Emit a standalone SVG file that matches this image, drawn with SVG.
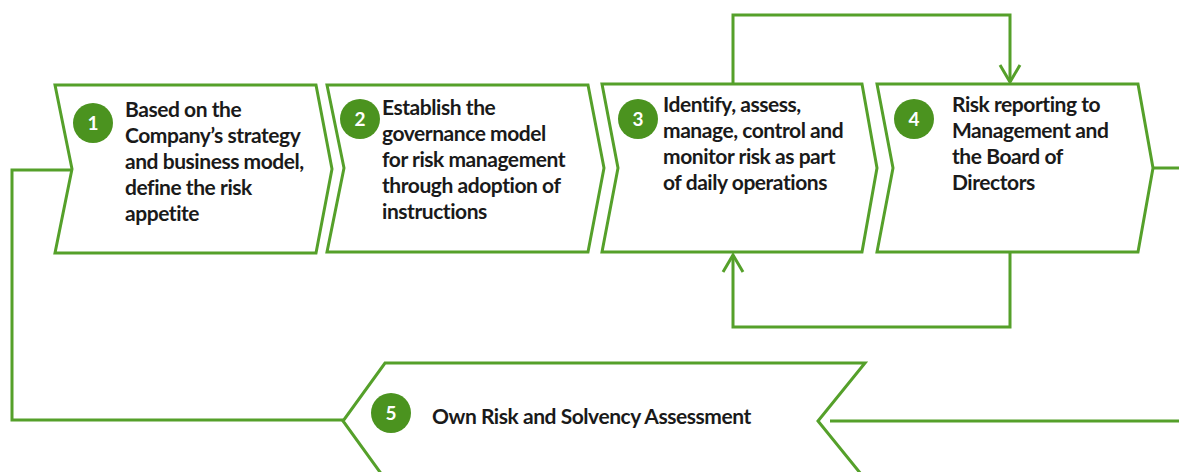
<svg xmlns="http://www.w3.org/2000/svg" width="1179" height="472" viewBox="0 0 1179 472">
<style>
.box{fill:#fff;stroke:#55a02a;stroke-width:3;stroke-linejoin:miter}
.con{fill:none;stroke:#55a02a;stroke-width:3}
.num{fill:#4b931f}
.nt{font-family:Lato,"Liberation Sans",sans-serif;font-weight:bold;font-size:19px;fill:#fff;text-anchor:middle}
.t{font-family:Lato,"Liberation Sans",sans-serif;font-weight:bold;font-size:21px;fill:#1a1a1a;letter-spacing:-0.45px}
</style>
<defs>
<marker id="arr" markerUnits="userSpaceOnUse" markerWidth="30" markerHeight="30" viewBox="-20 -15 30 30" refX="0" refY="0" orient="auto">
<path d="M-17,-10 L0,0 L-17,10" fill="none" stroke="#55a02a" stroke-width="3"/>
</marker>
</defs>
<rect width="1179" height="472" fill="#fff"/>
<g id="connectors">
<path class="con" d="M72,170 H12 V420 H343"/>
<path class="con" d="M1153,168 H1179"/>
<path class="con" d="M1179,421 H830"/>
<path class="con" d="M733,84 V15 H1010 V82" marker-end="url(#arr)"/>
<path class="con" d="M1010,253 V327 H733 V255" marker-end="url(#arr)"/>
</g>
<g id="node1">
<polygon class="box" points="55,85 316,85 332,169 316,253 55,253 72,169"/>
<circle class="num" cx="93" cy="123" r="20"/>
<text class="nt" x="93" y="130">1</text>
<text class="t" x="125" y="117">Based on the</text>
<text class="t" x="125" y="143">Company’s strategy</text>
<text class="t" x="125" y="169">and business model,</text>
<text class="t" x="125" y="195">define the risk</text>
<text class="t" x="125" y="221">appetite</text>
</g>
<g id="node2">
<polygon class="box" points="327,85 588,85 604,168 588,252 327,252 344,168"/>
<circle class="num" cx="360" cy="119" r="20"/>
<text class="nt" x="360" y="126">2</text>
<text class="t" x="382" y="115">Establish the</text>
<text class="t" x="382" y="141">governance model</text>
<text class="t" x="382" y="167">for risk management</text>
<text class="t" x="382" y="193">through adoption of</text>
<text class="t" x="382" y="219">instructions</text>
</g>
<g id="node3">
<polygon class="box" points="602,84 862,84 877,168 862,252 602,252 618,168"/>
<circle class="num" cx="638" cy="119" r="20"/>
<text class="nt" x="638" y="126">3</text>
<text class="t" x="663" y="112">Identify, assess,</text>
<text class="t" x="663" y="138">manage, control and</text>
<text class="t" x="663" y="164">monitor risk as part</text>
<text class="t" x="663" y="190">of daily operations</text>
</g>
<g id="node4">
<polygon class="box" points="877,84 1138,84 1153,168 1138,252 877,252 893,168"/>
<circle class="num" cx="914" cy="119" r="20"/>
<text class="nt" x="914" y="126">4</text>
<text class="t" x="952" y="112">Risk reporting to</text>
<text class="t" x="952" y="138">Management and</text>
<text class="t" x="952" y="164">the Board of</text>
<text class="t" x="952" y="190">Directors</text>
</g>
<g id="node5">
<polygon class="box" points="385,363 865,363 818,421 865,479 385,479 343,421"/>
<circle class="num" cx="391" cy="413" r="20"/>
<text class="nt" x="391" y="420">5</text>
<text class="t" x="432" y="424">Own Risk and Solvency Assessment</text>
</g>
</svg>
